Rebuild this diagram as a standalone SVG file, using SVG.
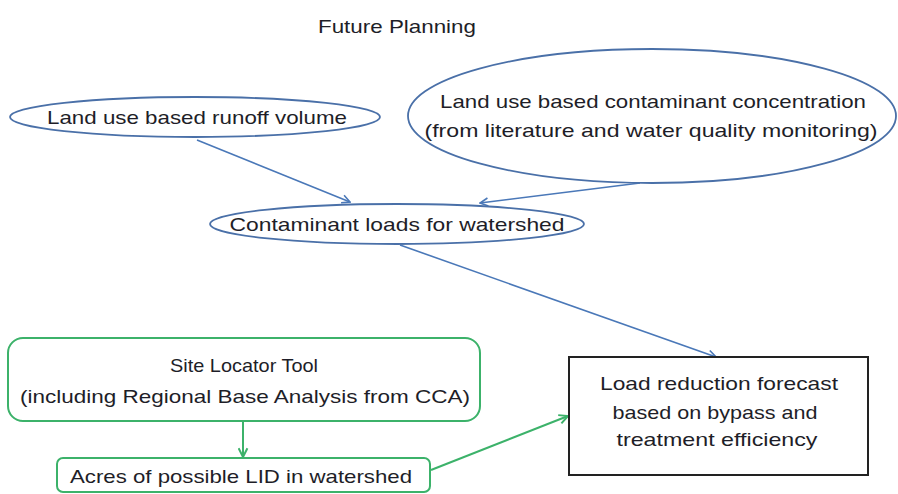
<svg xmlns="http://www.w3.org/2000/svg" width="898" height="494" viewBox="0 0 898 494">
<defs>
<style>
text{font-family:"Liberation Sans","DejaVu Sans",sans-serif;fill:#1e1e28;font-size:19px;text-anchor:middle}
.blue{fill:#fff;stroke:#4a70a8;stroke-width:1.8}
.green{fill:#fff;stroke:#3cb26a;stroke-width:2}
.cb{stroke:#4a78b8;stroke-width:1.6;fill:none}
.cg{stroke:#3cb26a;stroke-width:2;fill:none}
</style>
<marker id="ab" viewBox="0 0 10 10" refX="9" refY="5" markerWidth="10" markerHeight="10" markerUnits="userSpaceOnUse" orient="auto"><path d="M1,1 L9,5 L1,9" fill="none" stroke="#4a78b8" stroke-width="1.6"/></marker>
<marker id="ag" viewBox="0 0 10 10" refX="9" refY="5" markerWidth="11" markerHeight="11" markerUnits="userSpaceOnUse" orient="auto"><path d="M1,1 L9,5 L1,9" fill="none" stroke="#3cb26a" stroke-width="1.8"/></marker>
</defs>
<rect width="898" height="494" fill="#fff"/>
<text x="397" y="33" font-size="18" textLength="158" lengthAdjust="spacingAndGlyphs">Future Planning</text>
<g id="connectors">
<line class="cb" x1="197" y1="140" x2="350" y2="202" marker-end="url(#ab)"/>
<line class="cb" x1="640" y1="183" x2="480" y2="203" marker-end="url(#ab)"/>
<line class="cb" x1="400" y1="245" x2="716" y2="357" marker-end="url(#ab)"/>
<line class="cg" x1="243" y1="421" x2="243" y2="457" marker-end="url(#ag)"/>
<line class="cg" x1="431" y1="470" x2="568" y2="416" marker-end="url(#ag)"/>
</g>
<g id="runoff">
<ellipse class="blue" cx="195" cy="117" rx="185" ry="20"/>
<text x="197" y="124" textLength="300" lengthAdjust="spacingAndGlyphs">Land use based runoff volume</text>
</g>
<g id="concentration">
<ellipse class="blue" cx="652" cy="116" rx="244" ry="67"/>
<text x="653" y="108" textLength="426" lengthAdjust="spacingAndGlyphs">Land use based contaminant concentration</text>
<text x="651" y="137" textLength="453" lengthAdjust="spacingAndGlyphs">(from literature and water quality monitoring)</text>
</g>
<g id="loads">
<ellipse class="blue" cx="397" cy="224" rx="187" ry="20"/>
<text x="397" y="231" textLength="335" lengthAdjust="spacingAndGlyphs">Contaminant loads for watershed</text>
</g>
<g id="sitelocator">
<rect class="green" x="8" y="338" width="472" height="83" rx="15"/>
<text x="244" y="372" textLength="148" lengthAdjust="spacingAndGlyphs">Site Locator Tool</text>
<text x="245" y="403" textLength="450" lengthAdjust="spacingAndGlyphs">(including Regional Base Analysis from CCA)</text>
</g>
<g id="acres">
<rect class="green" x="57" y="458" width="373" height="34" rx="6"/>
<text x="241" y="483" textLength="342" lengthAdjust="spacingAndGlyphs">Acres of possible LID in watershed</text>
</g>
<g id="forecast">
<rect x="569" y="357" width="299" height="118" fill="#fff" stroke="#222" stroke-width="2"/>
<text x="719" y="390" textLength="238" lengthAdjust="spacingAndGlyphs">Load reduction forecast</text>
<text x="715" y="419" textLength="205" lengthAdjust="spacingAndGlyphs">based on bypass and</text>
<text x="717" y="446" textLength="201" lengthAdjust="spacingAndGlyphs">treatment efficiency</text>
</g>
</svg>
